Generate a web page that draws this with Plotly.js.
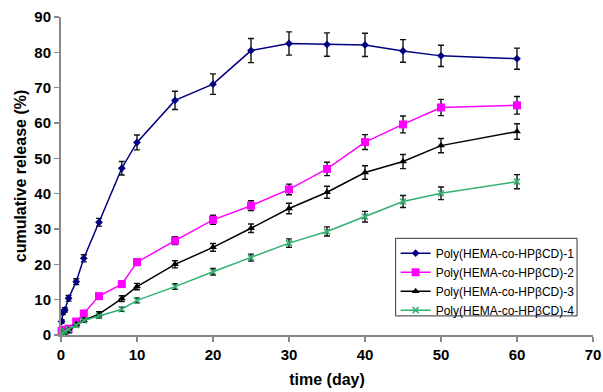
<!DOCTYPE html>
<html>
<head>
<meta charset="utf-8">
<script src="https://cdn.plot.ly/plotly-3.0.1.min.js"></script>
<style>html,body{margin:0;padding:0;background:#fff;}#chart{width:603px;height:392px;}</style>
</head>
<body>
<div id="chart"></div>
<script>
const times = [0.08, 0.25, 0.5, 1, 2, 3, 5, 8, 10, 15, 20, 25, 30, 35, 40, 45, 50, 60];
const seriesNames = ["Poly(HEMA-co-HPβCD)-1", "Poly(HEMA-co-HPβCD)-2", "Poly(HEMA-co-HPβCD)-3", "Poly(HEMA-co-HPβCD)-4"];
const release1 = [3.8, 6.4, 7.1, 10.4, 15.1, 21.7, 31.9, 47.2, 54.5, 66.4, 71.0, 80.5, 82.5, 82.2, 82.1, 80.4, 79.0, 78.2];
const release2 = [1.2, 1.4, 1.5, 1.8, 3.8, 6.1, 11.0, 14.4, 20.6, 26.7, 32.6, 36.6, 41.2, 47.0, 54.6, 59.6, 64.4, 65.0];
const release3 = [0.2, 0.4, 0.6, 1.0, 3.0, 4.2, 5.9, 10.3, 13.7, 20.0, 24.8, 30.2, 35.8, 40.4, 46.0, 49.1, 53.6, 57.6];
const release4 = [0.3, 0.6, 1.0, 1.6, 2.8, 4.1, 5.4, 7.3, 9.8, 13.7, 17.9, 21.9, 26.0, 29.3, 33.5, 37.8, 40.1, 43.4];
const err1 = [0.5, 0.6, 0.6, 0.8, 0.8, 1.0, 1.1, 1.9, 2.1, 2.6, 2.9, 3.4, 3.3, 3.3, 3.3, 3.2, 3.0, 3.0];
const err2 = [0.4, 0.4, 0.4, 0.5, 0.6, 0.7, 0.7, 0.8, 0.9, 1.1, 1.3, 1.4, 1.5, 1.9, 2.1, 2.4, 2.3, 2.5];
const err3 = [0.2, 0.3, 0.3, 0.4, 0.5, 0.6, 0.7, 0.8, 0.9, 1.0, 1.1, 1.2, 1.5, 1.7, 1.9, 2.0, 2.0, 2.2];
const err4 = [0.2, 0.3, 0.3, 0.4, 0.5, 0.5, 0.6, 0.6, 0.7, 0.8, 0.9, 1.0, 1.2, 1.3, 1.5, 1.7, 1.8, 2.0];

const colors = ["#000080", "#ff00ff", "#000000", "#33b070"];
const symbols = ["diamond", "square", "triangle-up", "x-thin-open"];
const sizes = [6, 8, 7, 6];
const vals = [release1, release2, release3, release4];
const errs = [err1, err2, err3, err4];

const traces = vals.map((v, i) => ({
  x: times, y: v, name: seriesNames[i], type: "scatter", mode: "lines+markers",
  line: {color: colors[i], width: 1.5},
  marker: {symbol: symbols[i], size: sizes[i], color: colors[i], line: {color: colors[i], width: i === 3 ? 1.5 : 0}},
  error_y: {type: "data", array: errs[i], visible: true, color: "#111", thickness: 1.4, width: 3},
  cliponaxis: false
}));

const layout = {
  width: 603, height: 392,
  margin: {l: 61, r: 10, t: 17, b: 57},
  paper_bgcolor: "#fff", plot_bgcolor: "#fff",
  font: {family: "Liberation Sans, Arial, sans-serif", color: "#000"},
  showlegend: true,
  legend: {
    x: 0.629, y: 0.303, xanchor: "left", yanchor: "top",
    borderwidth: 0, bgcolor: "rgba(255,255,255,0)",
    font: {size: 12, family: "Liberation Sans, Arial, sans-serif"},
    tracegroupgap: 0
  },
  shapes: [{
    type: "rect", xref: "paper", yref: "paper",
    x0: 0.629, x1: 0.970, y0: 0.060, y1: 0.304,
    line: {color: "#333", width: 1}, fillcolor: "rgba(255,255,255,0)", layer: "above"
  }],
  xaxis: {
    range: [0, 70], dtick: 10, tick0: 0, showgrid: false, zeroline: false,
    showline: true, linecolor: "#888", linewidth: 2,
    ticks: "outside", ticklen: 5, tickcolor: "#888", tickwidth: 1.5,
    tickfont: {size: 15, weight: "bold"},
    title: {text: "time (day)", font: {size: 16, weight: "bold"}, standoff: 12}
  },
  yaxis: {
    range: [0, 90], dtick: 10, tick0: 0, showgrid: false, zeroline: false,
    showline: true, linecolor: "#888", linewidth: 2,
    ticks: "outside", ticklen: 5, tickcolor: "#888", tickwidth: 1.5,
    tickfont: {size: 15, weight: "bold"},
    title: {text: "cumulative release (%)", font: {size: 16, weight: "bold"}, standoff: 4}
  }
};

Plotly.newPlot("chart", traces, layout, {staticPlot: true, displayModeBar: false});
</script>
</body>
</html>
